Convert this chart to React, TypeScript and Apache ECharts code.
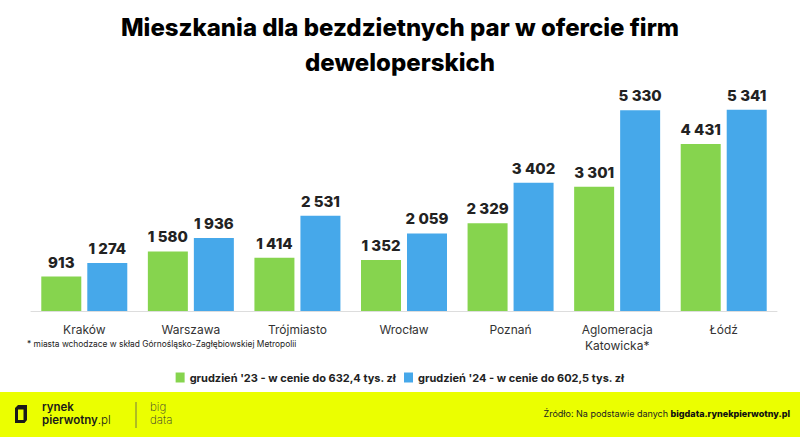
import React, { useEffect, useRef } from "react";
import * as echarts from "echarts";

const categories = ["Kraków", "Warszawa", "Trójmiasto", "Wrocław", "Poznań", "Aglomeracja\nKatowicka*", "Łódź"];
const dec23 = [913, 1580, 1414, 1352, 2329, 3301, 4431];
const dec24 = [1274, 1936, 2531, 2059, 3402, 5330, 5341];
const seriesNames = ["grudzień '23 - w cenie do 632,4 tys. zł", "grudzień '24 - w cenie do 602,5 tys. zł"];
const titleText = "Mieszkania dla bezdzietnych par w ofercie firm\ndeweloperskich";
const footnote = "* miasta wchodzace w skład Górnośląsko-Zagłębiowskiej Metropolii";

const GREEN = "#86D44E";
const BLUE = "#46A8EA";
const FONT = "Inter, 'Noto Sans', sans-serif";

const fmt = (v: number) => String(v).replace(/\B(?=(\d{3})+(?!\d))/g, " ");

echarts.graphic.registerShape(
  "rpLogo",
  echarts.graphic.extendPath(
    "M3 0 H12 V15 L9.5 18 H0 V3 Z M3 4.5 V15 H8.5 V4.5 Z",
    {}
  ) as any
);

export default function App() {
  const ref = useRef<HTMLDivElement>(null);
  useEffect(() => {
    if (!ref.current) return;
    const chart = echarts.init(ref.current, null, { renderer: "svg" });
    const labelStyle = {
      show: true,
      position: "top" as const,
      distance: 7,
      formatter: (p: any) => fmt(p.value),
      fontFamily: FONT,
      fontWeight: 800 as any,
      fontSize: 15,
      color: "#222222",
    };
    chart.setOption({
      animation: false,
      backgroundColor: "#ffffff",
      title: {
        text: titleText,
        left: "center",
        top: 5,
        textStyle: {
          fontFamily: FONT,
          fontWeight: 800,
          fontSize: 24,
          lineHeight: 35,
          color: "#000000",
        },
      },
      legend: {
        bottom: 49,
        left: "center",
        itemWidth: 9,
        itemHeight: 10,
        itemGap: 8,
        icon: "rect",
        textStyle: { fontFamily: FONT, fontWeight: 700, fontSize: 11, color: "#222222" },
        data: seriesNames,
      },
      grid: { left: 31, right: 23, top: 85, bottom: 126 },
      xAxis: {
        type: "category",
        data: categories,
        axisLine: { lineStyle: { color: "#DDDDDD", width: 1 } },
        axisTick: { show: false },
        axisLabel: {
          fontFamily: FONT,
          fontSize: 12,
          color: "#333333",
          margin: 10,
          lineHeight: 16,
        },
      },
      yAxis: {
        type: "value",
        min: 0,
        max: 6000,
        show: false,
        splitLine: { show: false },
      },
      series: [
        {
          name: seriesNames[0],
          type: "bar",
          data: dec23,
          barWidth: 40,
          barGap: "15%",
          itemStyle: { color: GREEN },
          label: labelStyle,
        },
        {
          name: seriesNames[1],
          type: "bar",
          data: dec24,
          barWidth: 40,
          itemStyle: { color: BLUE },
          label: labelStyle,
        },
      ],
      graphic: [
        {
          type: "text",
          left: 27,
          top: 340,
          style: { text: footnote, fontFamily: FONT, fontSize: 8.4, fill: "#222222" },
        },
        {
          type: "rect",
          shape: { x: 0, y: 392, width: 800, height: 45 },
          style: { fill: "#EBFF00" },
        },
        {
          type: "rpLogo",
          x: 15,
          y: 405,
          scaleX: 1,
          scaleY: 1,
          style: { fill: "#1a1a1a" },
        },
        {
          type: "text",
          x: 42,
          y: 401,
          style: { text: "rynek", fontFamily: FONT, fontWeight: 600, fontSize: 11.5, fill: "#1a1a1a" },
        },
        {
          type: "text",
          x: 42,
          y: 414,
          style: {
            text: "{b|pierwotny}{l|.pl}",
            rich: {
              b: { fontFamily: FONT, fontWeight: 600, fontSize: 11.5, fill: "#1a1a1a" },
              l: { fontFamily: FONT, fontWeight: 300, fontSize: 11.5, fill: "#1a1a1a" },
            },
          },
        },
        {
          type: "line",
          shape: { x1: 136, y1: 402, x2: 136, y2: 428 },
          style: { stroke: "#555555", lineWidth: 0.8 },
        },
        {
          type: "text",
          x: 150,
          y: 401,
          style: { text: "big", fontFamily: FONT, fontWeight: 200, fontSize: 11.5, fill: "#333333" },
        },
        {
          type: "text",
          x: 150,
          y: 414,
          style: { text: "data", fontFamily: FONT, fontWeight: 200, fontSize: 11.5, fill: "#333333" },
        },
        {
          type: "text",
          right: 10,
          top: 409,
          style: {
            text: "{n|Źródło: Na podstawie danych }{b|bigdata.rynekpierwotny.pl}",
            rich: {
              n: { fontFamily: FONT, fontSize: 9, fill: "#222222" },
              b: { fontFamily: FONT, fontWeight: 800, fontSize: 9, fill: "#111111" },
            },
          },
        },
      ],
    });
    return () => chart.dispose();
  }, []);
  return (
    <div
      ref={ref}
      style={{ position: "fixed", left: 0, top: 0, width: 800, height: 437 }}
    />
  );
}
